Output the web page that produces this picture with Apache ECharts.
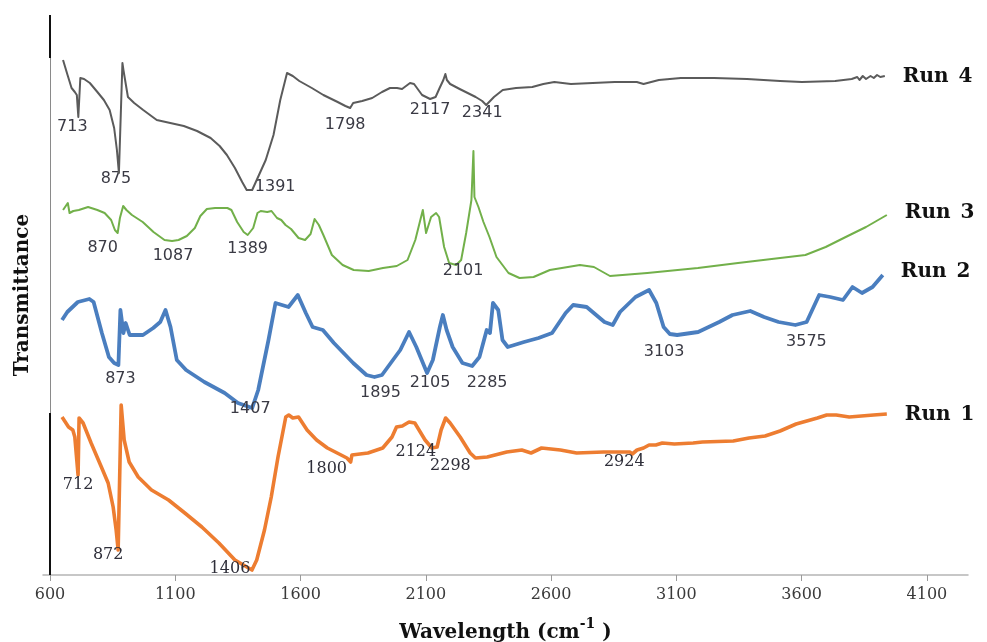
<!DOCTYPE html>
<html>
<head>
<meta charset="utf-8">
<script src="https://cdn.jsdelivr.net/npm/echarts@6/dist/echarts.min.js"></script>
<style>
  html, body { margin: 0; padding: 0; background: #fff; }
  #chart { width: 987px; height: 642px; }
</style>
</head>
<body>
<div id="chart"></div>
<script>
// FTIR spectra of four runs, stacked with vertical offsets (arbitrary transmittance units).

// Wavenumber ticks (cm-1)
const xTicks = [600, 1100, 1600, 2100, 2600, 3100, 3600, 4100];

// Run 1
const run1Wn = [648, 661, 674, 691, 699, 712, 716, 732, 764, 805, 832, 852, 864, 872, 884, 896, 916, 952, 1005, 1073, 1138, 1206, 1274, 1338, 1406, 1425, 1456, 1483, 1510, 1541, 1553, 1569, 1592, 1626, 1664, 1707, 1754, 1785, 1800, 1805, 1869, 1928, 1965, 1983, 2006, 2033, 2056, 2097, 2124, 2145, 2161, 2179, 2197, 2237, 2277, 2298, 2345, 2423, 2483, 2520, 2562, 2637, 2702, 2809, 2915, 2924, 2943, 2969, 2991, 3018, 3044, 3092, 3167, 3204, 3327, 3390, 3454, 3514, 3578, 3663, 3700, 3738, 3790, 3887, 3940];
const run1T = [158, 153, 148, 145, 138, 100, 157, 152, 132, 108, 92, 68, 45, 25, 170, 135, 113, 98, 85, 75, 62, 48, 32, 15, 5, 15, 45, 78, 118, 158, 160, 157, 158, 145, 135, 127, 121, 117, 113, 120, 122, 127, 138, 148, 149, 153, 152, 135, 127, 128, 145, 157, 152, 138, 122, 117, 118, 123, 125, 122, 127, 125, 122, 123, 123, 121, 125, 127, 130, 130, 132, 131, 132, 133, 134, 137, 139, 144, 151, 157, 160, 160, 158, 160, 161];
const run1Peaks = [712, 872, 1406, 1800, 2124, 2298, 2924];

// Run 2
const run2Wn = [648, 669, 711, 757, 774, 807, 835, 856, 873, 881, 893, 902, 918, 971, 1012, 1040, 1061, 1081, 1106, 1143, 1216, 1297, 1350, 1407, 1431, 1472, 1500, 1552, 1589, 1621, 1648, 1689, 1733, 1810, 1863, 1895, 1925, 1960, 1998, 2033, 2062, 2105, 2128, 2156, 2168, 2183, 2207, 2246, 2285, 2314, 2343, 2356, 2368, 2389, 2406, 2427, 2492, 2550, 2604, 2658, 2688, 2742, 2813, 2846, 2875, 2937, 2991, 3020, 3049, 3074, 3103, 3187, 3271, 3324, 3395, 3450, 3508, 3575, 3620, 3670, 3714, 3765, 3803, 3841, 3883, 3924];
const run2T = [255, 263, 273, 276, 273, 242, 218, 212, 210, 265, 242, 252, 240, 240, 247, 253, 265, 248, 215, 205, 193, 182, 172, 167, 185, 235, 272, 268, 280, 262, 248, 245, 232, 212, 200, 198, 200, 212, 225, 243, 228, 202, 215, 248, 260, 245, 228, 212, 209, 218, 245, 242, 272, 265, 235, 228, 233, 237, 242, 262, 270, 268, 253, 250, 263, 278, 285, 272, 248, 241, 240, 243, 253, 260, 264, 258, 253, 250, 253, 280, 278, 275, 288, 282, 288, 300];
const run2Peaks = [873, 1407, 1895, 2105, 2285, 3103, 3575];

// Run 3
const run3Wn = [652, 671, 678, 693, 715, 752, 789, 818, 844, 859, 870, 879, 892, 905, 927, 970, 1013, 1057, 1087, 1113, 1146, 1178, 1200, 1226, 1259, 1308, 1324, 1347, 1373, 1389, 1411, 1428, 1441, 1467, 1484, 1506, 1523, 1540, 1562, 1592, 1618, 1640, 1656, 1673, 1691, 1725, 1768, 1812, 1872, 1929, 1984, 2027, 2058, 2088, 2101, 2121, 2141, 2153, 2173, 2193, 2221, 2241, 2261, 2282, 2290, 2294, 2310, 2330, 2354, 2382, 2430, 2474, 2530, 2595, 2715, 2771, 2835, 2984, 3186, 3346, 3615, 3696, 3776, 3857, 3940];
const run3T = [365, 372, 362, 364, 365, 368, 365, 362, 355, 345, 342, 357, 369, 365, 360, 353, 343, 335, 334, 335, 339, 347, 359, 366, 367, 367, 365, 353, 343, 340, 347, 362, 364, 363, 364, 357, 355, 350, 346, 337, 335, 341, 356, 350, 340, 320, 310, 305, 304, 307, 309, 315, 335, 365, 342, 358, 362, 358, 328, 312, 310, 315, 342, 375, 424, 378, 368, 353, 338, 318, 302, 297, 298, 305, 310, 308, 299, 302, 307, 312, 320, 328, 338, 348, 360];
const run3Peaks = [870, 1087, 1389, 2101];

// Run 4
const run4Wn = [652, 670, 686, 699, 707, 713, 721, 736, 759, 789, 815, 838, 856, 867, 875, 889, 893, 911, 936, 972, 1026, 1080, 1134, 1187, 1241, 1277, 1306, 1338, 1367, 1385, 1391, 1407, 1434, 1461, 1492, 1519, 1546, 1569, 1595, 1645, 1691, 1748, 1779, 1798, 1810, 1846, 1886, 1925, 1957, 1985, 2005, 2037, 2053, 2085, 2117, 2139, 2155, 2170, 2178, 2184, 2197, 2235, 2267, 2299, 2325, 2341, 2372, 2407, 2460, 2525, 2569, 2613, 2679, 2766, 2854, 2942, 2969, 3030, 3118, 3250, 3382, 3514, 3601, 3734, 3800, 3822, 3831, 3844, 3857, 3875, 3888, 3901, 3914, 3932];
const run4T = [515, 500, 487, 483, 480, 458, 497, 496, 492, 483, 475, 465, 447, 425, 402, 512, 505, 478, 472, 465, 455, 452, 449, 444, 437, 429, 420, 407, 393, 385, 383, 385, 400, 415, 440, 475, 502, 499, 494, 487, 480, 473, 469, 467, 472, 474, 477, 483, 487, 487, 486, 492, 491, 480, 476, 478, 487, 495, 501, 495, 491, 486, 482, 478, 474, 470, 478, 485, 487, 488, 491, 493, 491, 492, 493, 493, 491, 495, 497, 497, 496, 494, 493, 494, 496, 498, 495, 499, 496, 499, 497, 500, 498, 499];
const run4Peaks = [713, 875, 1391, 1798, 2117, 2341];

// Pixel offsets of each band label relative to its band position
const labelOffsets = {
  'Run 1': { 712: [0, 10], 872: [-10, 5], 1406: [-22, -1], 1800: [-24, 7], 2124: [-16, 4], 2298: [-25, 8], 2924: [-8, 8] },
  'Run 2': { 873: [2, 14], 1407: [-2, 1], 1895: [6, 16], 2105: [3, 10], 2285: [15, 17], 3103: [-13, 17], 3575: [11, 17] },
  'Run 3': { 870: [-15, 15], 1087: [1, 15], 1389: [0, 14], 2101: [37, 38] },
  'Run 4': { 713: [-6, 10], 875: [-3, 6], 1391: [27, -5], 1798: [-5, 17], 2117: [0, 11], 2341: [-4, 8] }
};

const runs = [
  { name: 'Run 1', wn: run1Wn, t: run1T, peaks: run1Peaks, color: '#ed7d31', width: 3.6,
    peakFont: { fontFamily: 'DejaVu Serif', fontSize: 16, color: '#2f2f3a' }, endOffset: [0, 1] },
  { name: 'Run 2', wn: run2Wn, t: run2T, peaks: run2Peaks, color: '#4a7ebf', width: 3.8,
    peakFont: { fontFamily: 'DejaVu Sans', fontSize: 16, color: '#3a3a44' }, endOffset: [0, -3] },
  { name: 'Run 3', wn: run3Wn, t: run3T, peaks: run3Peaks, color: '#72b04a', width: 2,
    peakFont: { fontFamily: 'DejaVu Sans', fontSize: 16, color: '#3a3a44' }, endOffset: [0, -2] },
  { name: 'Run 4', wn: run4Wn, t: run4T, peaks: run4Peaks, color: '#5b5b5b', width: 2,
    peakFont: { fontFamily: 'DejaVu Sans', fontSize: 16, color: '#3a3a44' }, endOffset: [0, 1] }
];

const series = runs.map(function (run, idx) {
  const pts = run.wn.map(function (x, i) { return [x, run.t[i]]; });
  const marks = run.peaks.map(function (p) {
    const i = run.wn.indexOf(p);
    const off = labelOffsets[run.name][p] || [0, 12];
    return {
      coord: [p, run.t[i]],
      value: p,
      label: { offset: off }
    };
  });
  return {
    name: run.name,
    type: 'line',
    data: pts,
    showSymbol: false,
    symbol: 'none',
    z: 2 + idx,
    lineStyle: { color: run.color, width: run.width, join: 'round' },
    itemStyle: { color: run.color },
    endLabel: {
      show: true,
      formatter: function (p) { return p.seriesName.replace(' ', '\u2002'); },
      distance: 18,
      offset: run.endOffset,
      fontFamily: 'DejaVu Serif',
      fontWeight: 'bold',
      fontSize: 20,
      color: '#111'
    },
    markPoint: {
      symbol: 'circle',
      symbolSize: 0,
      silent: true,
      label: Object.assign({ show: true, position: 'inside', formatter: '{c}' }, run.peakFont),
      data: marks
    }
  };
});

// Vertical axis line drawn at the first wavenumber tick
series[0].markLine = {
  silent: true,
  symbol: 'none',
  label: { show: false },
  lineStyle: { color: '#8a8a8a', width: 1, type: 'solid' },
  data: [
    { xAxis: xTicks[0] },
    [{ coord: [xTicks[0], 560], lineStyle: { color: '#111', width: 2 } }, { coord: [xTicks[0], 517] }],
    [{ coord: [xTicks[0], 162], lineStyle: { color: '#111', width: 2 } }, { coord: [xTicks[0], 0] }]
  ]
};

const chart = echarts.init(document.getElementById('chart'), null, { renderer: 'canvas' });
chart.setOption({
  animation: false,
  backgroundColor: '#ffffff',
  grid: { left: 43, right: 19, top: 15, bottom: 67, outerBoundsMode: 'none', containLabel: false },
  xAxis: {
    type: 'value',
    min: 572,
    max: 4264,
    splitLine: { show: false },
    axisLine: { show: true, lineStyle: { color: '#b5b5b5', width: 1.5 } },
    axisTick: { show: true, customValues: xTicks, length: 6, lineStyle: { color: '#9a9a9a' } },
    axisLabel: {
      customValues: xTicks,
      formatter: function (v) { return String(v); },
      margin: 12,
      fontFamily: 'DejaVu Serif',
      fontSize: 16,
      color: '#3a3a3a'
    },
    name: '{t|Wavelength (cm}{s|-1}{t| )}',
    nameLocation: 'middle',
    nameGap: 42,
    nameTextStyle: {
      rich: {
        t: { fontFamily: 'DejaVu Serif', fontWeight: 'bold', fontSize: 20, color: '#111', verticalAlign: 'bottom', lineHeight: 26 },
        s: { fontFamily: 'DejaVu Serif', fontWeight: 'bold', fontSize: 14, color: '#111', verticalAlign: 'top', lineHeight: 26 }
      }
    }
  },
  yAxis: {
    type: 'value',
    min: 0,
    max: 560,
    axisLine: { show: false },
    axisTick: { show: false },
    axisLabel: { show: false },
    splitLine: { show: false },
    name: 'Transmittance',
    nameLocation: 'middle',
    nameGap: 10,
    nameTextStyle: { fontFamily: 'DejaVu Serif', fontWeight: 'bold', fontSize: 20, color: '#111' }
  },
  series: series
});
</script>
</body>
</html>
